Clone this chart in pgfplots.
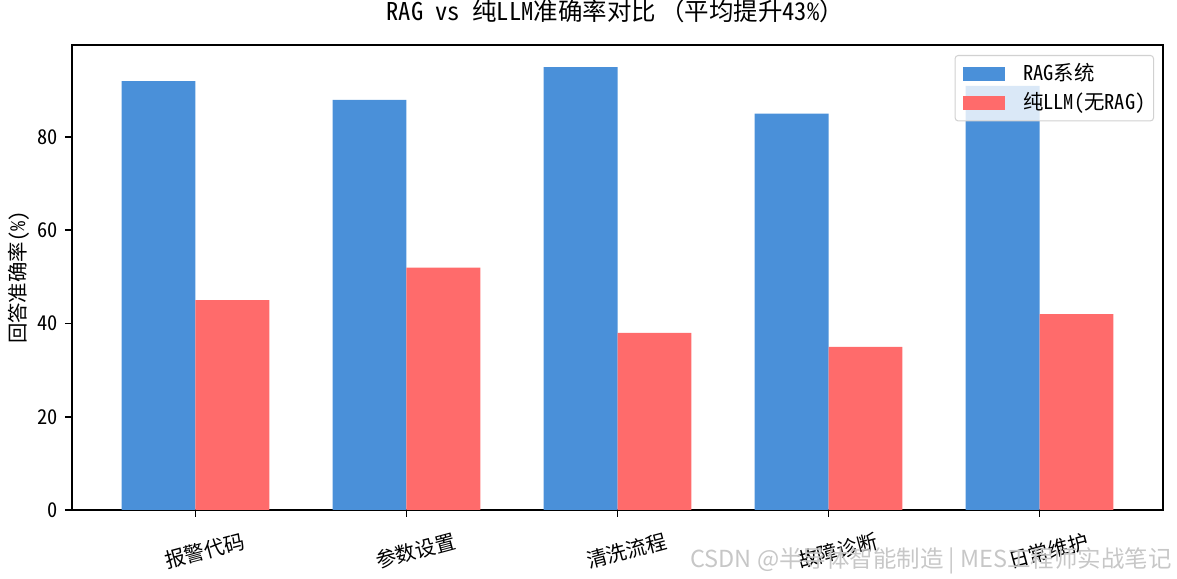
\documentclass[border=0pt]{standalone}
\usepackage{pgfplots}
\pgfplotsset{compat=1.18}
\usepackage{fontspec}
\setmainfont{Noto Sans Mono CJK SC}
\newfontfamily\wmfont{Noto Sans CJK SC}
\definecolor{ragblue}{HTML}{4A90D9}
\definecolor{llmred}{HTML}{FF6B6B}
\begin{document}
\begin{tikzpicture}
\useasboundingbox (0,0) rectangle (576.73pt,283.71pt);
\begin{axis}[
  at={(35.28pt,33.81pt)}, anchor=south west,
  scale only axis, width=534.59pt, height=227.85pt,
  xmin=-0.585, xmax=4.585, ymin=0, ymax=99.75,
  xtick={0,1,2,3,4},
  xticklabels={报警代码,参数设置,清洗流程,故障诊断,日常维护},
  ytick={0,20,40,60,80},
  tick align=outside, tick pos=left,
  major tick length=3.43pt,
  every tick/.style={black, line width=0.78pt},
  axis line style={line width=0.78pt, black},
  /pgf/number format/assume math mode=true,
  tick label style={font=\fontsize{10}{12}\selectfont},
  yticklabel style={anchor=east, inner sep=0pt, xshift=-3.43pt},
  xticklabel style={rotate=15, anchor=center, inner sep=0pt, yshift=-17.15pt},
  title={RAG vs 纯LLM准确率对比\,（平均提升43\%）\hspace{2pt}},
  title style={at={(axis description cs:0.498,1.0258)}, anchor=base, inner sep=0pt, font=\fontsize{12}{14}\selectfont},
  ylabel={回答准确率(\%)},
  ylabel style={at={(axis description cs:-0.0486,0.5)}, anchor=center, inner sep=0pt, font=\fontsize{10}{12}\selectfont},
  legend image code/.code={\draw[#1, draw=none, fill opacity=1, sharp corners] (0pt,-3.43pt) rectangle (20.6pt,3.43pt);},
  legend cell align=left,
  legend style={at={(rel axis cs:1,1)}, anchor=north east, xshift=-4.4pt, yshift=-4.9pt,
    draw=black!18, line width=0.5pt, fill=white, fill opacity=0.8, text opacity=1,
    rounded corners=1.5pt, font=\fontsize{10}{12}\selectfont,
    inner xsep=3.9pt, inner ysep=4pt, row sep=4.2pt,
    nodes={inner sep=0pt},
    /tikz/every odd column/.append style={column sep=8.8pt}},
]
\addplot[ybar, bar width=0.35, bar shift=-0.175, fill=ragblue, draw=none]
  coordinates {(0,92) (1,88) (2,95) (3,85) (4,91)};
\addlegendentry{RAG系统}
\addplot[ybar, bar width=0.35, bar shift=0.175, fill=llmred, draw=none]
  coordinates {(0,45) (1,52) (2,38) (3,35) (4,42)};
\addlegendentry{纯LLM(无RAG)}
\end{axis}
\node[anchor=base east, font=\wmfont\fontsize{11.5}{13}\selectfont, text=black!22, inner sep=0pt]
  at (574.3pt,5.4pt) {CSDN @半导体智能制造 | MES工程师实战笔记};
\end{tikzpicture}
\end{document}
